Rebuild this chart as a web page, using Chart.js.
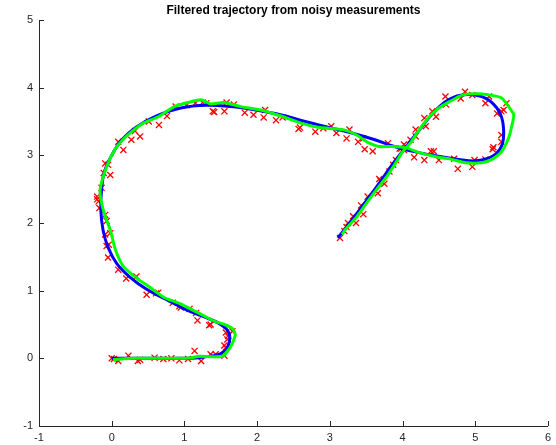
<!DOCTYPE html>
<html>
<head>
<meta charset="utf-8">
<script src="https://cdn.jsdelivr.net/npm/chart.js@4/dist/chart.umd.min.js"></script>
<style>
html,body{margin:0;padding:0;background:#fff;}
#wrap{width:556px;height:445px;position:relative;}
</style>
</head>
<body>
<div id="wrap"><canvas id="c" width="556" height="445"></canvas></div>
<script>
// Noisy measurements (red x)
const measX = [0.0,0.03,0.09,0.23,0.36,0.39,0.59,0.71,0.82,0.93,1.05,1.14,1.23,1.36,1.43,1.55,1.57,1.55,1.59,1.6,1.57,1.66,1.36,1.34,1.18,1.16,1.07,0.95,0.93,0.84,0.64,0.61,0.48,0.34,0.2,0.09,-0.05,-0.07,-0.04,-0.09,-0.02,-0.07,-0.09,-0.17,-0.2,-0.2,-0.18,-0.14,-0.11,-0.05,-0.02,-0.09,0.09,0.16,0.27,0.32,0.39,0.51,0.65,0.76,0.88,1.03,1.15,1.25,1.3,1.39,1.41,1.55,1.58,1.68,1.83,1.95,2.09,2.11,2.26,2.35,2.57,2.59,2.8,2.91,3.02,3.09,3.23,3.27,3.39,3.46,3.48,3.59,3.8,3.98,4.05,4.16,4.3,4.39,4.43,4.5,4.71,4.76,4.96,4.99,5.14,5.24,5.25,5.36,5.36,5.36,5.39,5.3,5.43,5.14,5.19,4.96,4.86,4.8,4.59,4.6,4.46,4.41,4.3,4.32,4.18,4.18,4.11,4.02,3.96,4.02,3.91,3.87,3.82,3.68,3.7,3.75,3.66,3.52,3.43,3.46,3.32,3.36,3.25,3.23,3.2,3.14];
const measY = [0.0,-0.01,-0.04,0.04,-0.04,-0.02,0.01,-0.01,0.0,-0.03,-0.01,0.11,-0.04,0.06,0.06,0.04,0.16,0.19,0.28,0.33,0.38,0.4,0.5,0.49,0.56,0.67,0.73,0.75,0.77,0.82,0.97,0.96,0.94,1.21,1.18,1.31,1.49,1.66,1.68,1.83,1.85,2.03,2.12,2.22,2.35,2.39,2.32,2.52,2.74,2.86,2.71,2.88,3.2,3.08,3.23,3.36,3.28,3.5,3.45,3.58,3.72,3.74,3.77,3.78,3.77,3.65,3.64,3.65,3.78,3.75,3.63,3.6,3.56,3.67,3.52,3.56,3.39,3.41,3.35,3.4,3.43,3.33,3.25,3.38,3.2,3.25,3.09,3.06,3.18,3.1,3.13,2.97,2.93,3.06,3.06,2.93,2.95,2.8,2.83,2.93,2.94,3.09,3.12,3.2,3.3,3.65,3.67,3.62,3.77,3.77,3.87,3.89,3.94,3.84,3.87,3.75,3.57,3.65,3.55,3.43,3.38,3.28,3.23,3.16,3.1,3.08,2.93,2.86,2.76,2.65,2.62,2.58,2.44,2.39,2.26,2.13,2.1,2.0,2.0,1.94,1.88,1.78];

// True trajectory (blue)
const trueX = [0,0.3,0.6,0.9,1.2,1.4,1.5,1.58,1.62,1.62,1.58,1.47,1.3,1.02,0.75,0.48,0.25,0.07,-0.05,-0.12,-0.15,-0.14,-0.1,0,0.14,0.34,0.61,0.95,1.3,1.64,1.98,2.32,2.66,3.0,3.34,3.62,3.89,4.09,4.37,4.64,4.91,5.09,5.27,5.37,5.39,5.35,5.23,5.05,4.8,4.6,4.4,4.22,4.03,3.85,3.66,3.44,3.25,3.11];
const trueY = [0,0.0,0.0,0.0,0.01,0.04,0.07,0.14,0.25,0.35,0.43,0.52,0.6,0.72,0.87,1.02,1.2,1.4,1.64,1.9,2.2,2.49,2.76,3.0,3.23,3.42,3.58,3.7,3.74,3.72,3.67,3.6,3.5,3.41,3.32,3.23,3.13,3.07,3.01,2.96,2.92,2.93,3.01,3.16,3.38,3.6,3.78,3.88,3.89,3.8,3.6,3.36,3.1,2.85,2.56,2.24,1.97,1.78];

// Filtered estimate (green)
const filtX = [0.02,0.3,0.6,0.9,1.1,1.2,1.52,1.64,1.7,1.66,1.55,1.41,1.23,1.05,0.89,0.72,0.5,0.36,0.16,0.05,-0.02,-0.09,-0.14,-0.16,-0.07,0.04,0.18,0.31,0.44,0.64,0.86,1.05,1.23,1.36,1.54,1.77,2.05,2.36,2.59,2.86,3.18,3.37,3.51,3.68,3.86,4.05,4.23,4.46,4.68,4.87,5.09,5.23,5.36,5.46,5.5,5.53,5.46,5.36,5.21,5.01,4.82,4.64,4.5,4.37,4.23,4.12,4.0,3.89,3.78,3.64,3.51,3.37,3.21,3.17];
const filtY = [-0.02,0.0,0.0,0.0,0.01,0.03,0.03,0.18,0.35,0.44,0.5,0.55,0.65,0.75,0.83,0.9,1.07,1.17,1.36,1.61,1.9,2.1,2.3,2.49,2.83,3.08,3.26,3.38,3.48,3.57,3.72,3.78,3.82,3.76,3.78,3.72,3.67,3.57,3.48,3.41,3.38,3.3,3.2,3.13,3.13,3.11,3.04,2.98,2.94,2.89,2.89,2.94,3.05,3.26,3.42,3.6,3.72,3.85,3.89,3.91,3.89,3.79,3.7,3.57,3.38,3.2,3.05,2.86,2.68,2.49,2.3,2.09,1.9,1.83];

const xTicks = [-1,0,1,2,3,4,5,6];
const yTicks = [-1,0,1,2,3,4,5];

const zip = (xs, ys) => xs.map((x, i) => ({x: x, y: ys[i]}));

const inwardTicks = {
  id: 'inwardTicks',
  afterDraw(chart) {
    const ctx = chart.ctx;
    const xs = chart.scales.x, ys = chart.scales.y;
    const a = chart.chartArea;
    ctx.save();
    ctx.strokeStyle = '#262626';
    ctx.lineWidth = 1;
    ctx.beginPath();
    xTicks.forEach(v => {
      const px = Math.round(xs.getPixelForValue(v)) + 0.5;
      ctx.moveTo(px, a.bottom);
      ctx.lineTo(px, a.bottom - 5);
    });
    yTicks.forEach(v => {
      const py = Math.round(ys.getPixelForValue(v)) + 0.5;
      ctx.moveTo(a.left, py);
      ctx.lineTo(a.left + 5, py);
    });
    ctx.stroke();
    ctx.restore();
  }
};

new Chart(document.getElementById('c'), {
  type: 'scatter',
  data: {
    datasets: [
      {
        label: 'Filtered',
        data: zip(filtX, filtY),
        showLine: true,
        borderColor: '#00ff00',
        borderWidth: 3,
        pointRadius: 0,
        tension: 0.2,
        fill: false,
        order: 0
      },
      {
        label: 'True',
        data: zip(trueX, trueY),
        showLine: true,
        borderColor: '#0000ff',
        borderWidth: 3,
        pointRadius: 0,
        tension: 0.4,
        fill: false,
        order: 1
      },
      {
        label: 'Measurements',
        data: zip(measX, measY),
        showLine: false,
        pointStyle: 'crossRot',
        pointRadius: 4.3,
        borderColor: '#ff0000',
        backgroundColor: '#ff0000',
        pointBorderWidth: 1.3,
        order: 2
      }
    ]
  },
  options: {
    responsive: false,
    animation: false,
    devicePixelRatio: 1,
    layout: { padding: { left: 0, right: 4.5, top: 0, bottom: 0 } },
    plugins: {
      legend: { display: false },
      tooltip: { enabled: false },
      title: {
        display: true,
        fullSize: false,
        text: 'Filtered trajectory from noisy measurements',
        color: '#000',
        font: { family: 'Liberation Sans, Arial, sans-serif', size: 12, weight: 'bold', lineHeight: 1.2 },
        padding: { top: 3, bottom: 2.6 }
      }
    },
    scales: {
      x: {
        type: 'linear',
        min: -1, max: 6,
        afterBuildTicks: s => { s.ticks = xTicks.map(v => ({value: v})); },
        afterFit: s => { s.height = 19; },
        grid: { display: true, drawOnChartArea: false, drawTicks: false, tickLength: 0 },
        border: { display: true, color: '#262626', width: 1 },
        ticks: { color: '#262626', padding: 5, font: { family: 'Liberation Sans, Arial, sans-serif', size: 11 } }
      },
      y: {
        type: 'linear',
        min: -1, max: 5,
        afterBuildTicks: s => { s.ticks = yTicks.map(v => ({value: v})); },
        afterFit: s => { s.width = 39; },
        grid: { display: true, drawOnChartArea: false, drawTicks: false, tickLength: 0 },
        border: { display: true, color: '#262626', width: 1 },
        ticks: { color: '#262626', padding: 6, font: { family: 'Liberation Sans, Arial, sans-serif', size: 11 } }
      }
    }
  },
  plugins: [inwardTicks]
});
</script>
</body>
</html>
